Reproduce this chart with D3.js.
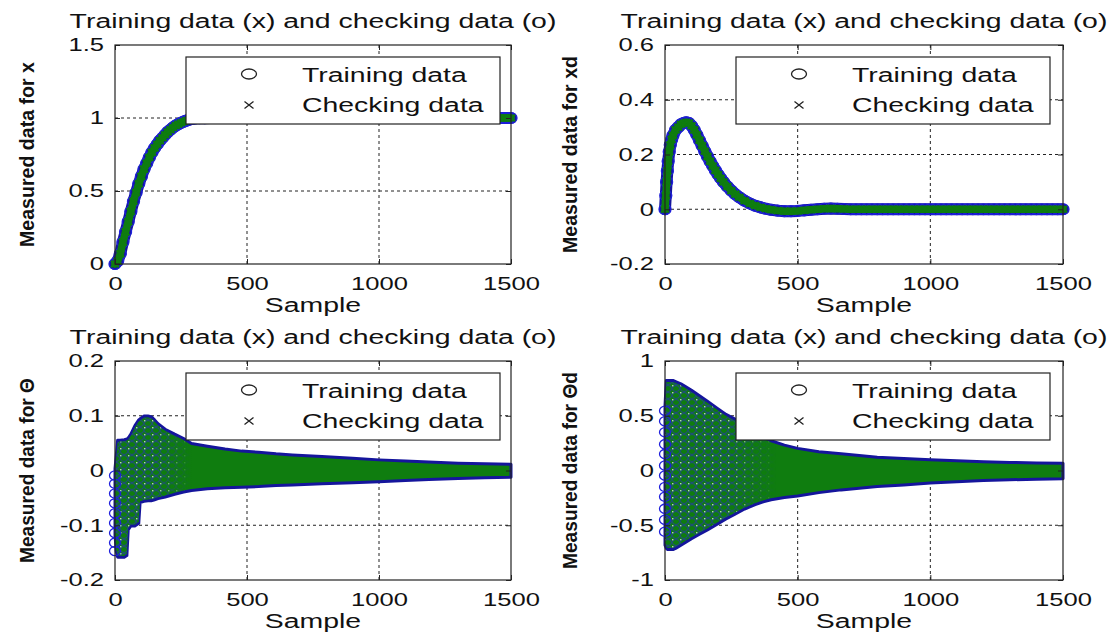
<!DOCTYPE html>
<html>
<head>
<meta charset="utf-8">
<script src="https://cdn.jsdelivr.net/npm/d3@7"></script>
<style>
body { margin: 0; background: #fff; }
svg { display: block; }
text { font-family: "Liberation Sans", Arial, sans-serif; fill: #111; }
</style>
</head>
<body>
<svg id="fig" width="1115" height="634"></svg>
<script>
// ---- data ----
var xTicks = [0, 500, 1000, 1500];

// x (position): rises to 1, then flat
var xSamples = [0,10,20,30,40,50,60,70,80,90,100,110,120,130,140,150,160,170,180,190,200,210,220,230,240,250,260,270,280,290,300,
  320,340,360,380,400,430,460,490,520,550,580,610,640,680,720,760,800,840,880,920,960,1000,1040,1080,1120,1160,1200,1240,1280,1320,1360,1400,1430,1450,1460,1470,1480,1490,1500];
var xValues = [0,0.02,0.07,0.15,0.22,0.29,0.36,0.43,0.49,0.55,0.60,0.65,0.69,0.73,0.765,0.795,0.82,0.845,0.865,0.885,0.905,0.92,0.935,0.948,0.958,0.967,0.975,0.982,0.988,0.993,0.996,
  0.998,0.999,1,1,1,1,1,1,1,1,1,1,1,1,1,1,1,1,1,1,1,1,1,1,1,1,1,1,1,1,1,1,1,1,1,1,1,1,1];
var xTickY = [0, 0.5, 1, 1.5];

// xd (velocity): peak near sample 80, settles at 0
var xdSamples = [0,3,6,9,12,16,20,25,30,40,50,60,70,80,90,100,110,120,130,140,150,160,170,180,190,200,210,220,235,250,265,280,
  300,320,340,360,380,400,425,450,475,500,525,550,575,600,625,650,675,700,
  720,740,760,780,800,820,840,860,880,900,920,940,960,980,1000,1020,1040,1060,1080,1100,1120,1140,1160,1180,1200,1220,1240,1260,1280,1300,1320,1340,1360,1380,1400,1420,1440,1460,1480,1500];
var xdValues = [0,0.05,0.1,0.14,0.175,0.21,0.235,0.255,0.27,0.29,0.30,0.31,0.315,0.318,0.315,0.305,0.29,0.272,0.252,0.232,0.212,0.193,0.175,0.158,0.142,0.127,0.113,0.1,0.083,0.068,0.055,0.044,
  0.031,0.021,0.013,0.007,0.002,-0.002,-0.005,-0.007,-0.007,-0.006,-0.004,-0.002,0,0.002,0.003,0.002,0.001,0,
  0,0,0,0,0,0,0,0,0,0,0,0,0,0,0,0,0,0,0,0,0,0,0,0,0,0,0,0,0,0,0,0,0,0,0,0,0,0,0,0];
var xdTickY = [-0.2, 0, 0.2, 0.4, 0.6];

// theta: dense oscillation, upper / lower envelope of the markers
var thSamples = [0,5,10,20,35,45,50,60,75,90,95,110,125,137,150,163,190,226,260,290,350,417,480,544,610,672,784,900,1000,1100,1189,1300,1400,1500];
var thUpper = [-0.005,0.02,0.047,0.047,0.048,0.049,0.051,0.058,0.073,0.084,0.086,0.091,0.091,0.09,0.084,0.077,0.067,0.058,0.05,0.041,
  0.036,0.031,0.027,0.025,0.022,0.02,0.017,0.014,0.011,0.009,0.007,0.005,0.004,0.003];
var thLower = [-0.11,-0.14,-0.15,-0.15,-0.15,-0.147,-0.1,-0.093,-0.093,-0.088,-0.05,-0.048,-0.047,-0.047,-0.045,-0.043,-0.04,-0.035,-0.031,-0.028,
  -0.025,-0.023,-0.022,-0.021,-0.019,-0.018,-0.016,-0.014,-0.012,-0.01,-0.008,-0.006,-0.005,-0.004];
var thFirst = [-0.009,-0.024,-0.042,-0.06,-0.078,-0.096,-0.114,-0.132,-0.147];
var thTickY = [-0.2, -0.1, 0, 0.1, 0.2];

// theta dot
var thdSamples = [0,5,10,20,30,40,60,80,100,130,160,195,230,262,300,340,370,400,450,500,580,664,800,900,1000,1100,1200,1300,1400,1500];
var thdUpper = [0.55,0.78,0.78,0.78,0.78,0.77,0.75,0.72,0.69,0.64,0.59,0.53,0.47,0.43,0.37,0.30,0.26,0.23,0.19,0.16,
  0.13,0.11,0.08,0.068,0.056,0.046,0.038,0.032,0.027,0.024];
var thdLower = [-0.64,-0.67,-0.68,-0.68,-0.68,-0.67,-0.64,-0.61,-0.58,-0.54,-0.50,-0.45,-0.40,-0.36,-0.31,-0.27,-0.245,-0.225,-0.205,-0.19,
  -0.16,-0.135,-0.105,-0.09,-0.072,-0.06,-0.05,-0.043,-0.037,-0.033];
var thdFirst = [0.545,0.45,0.35,0.24,0.15,0.045,-0.045,-0.15,-0.24,-0.35,-0.45,-0.56];
var thdTickY = [-1, -0.5, 0, 0.5, 1];

var titleText = "Training data (x) and checking data (o)";
var legendText = ["Training data", "Checking data"];

// ---- styles ----
var BLUE = "#1f1fdc", EDGE = "#15159c", GREEN = "#0f7d0f";
var K = 1.42;   // the figure is stretched sideways

var svg = d3.select("#fig");
var defs = svg.append("defs");

// texture of overlapping circles where the oscillation is still large
var pat = defs.append("pattern").attr("id", "rings").attr("patternUnits", "userSpaceOnUse")
  .attr("width", 8).attr("height", 7);
pat.append("rect").attr("width", 8).attr("height", 7).attr("fill", GREEN);
pat.append("ellipse").attr("cx", 4).attr("cy", 3.5).attr("rx", 3.6).attr("ry", 3)
  .attr("fill", "none").attr("stroke", "#2a2ac8").attr("stroke-width", 0.9).attr("opacity", 0.75);
pat.append("circle").attr("cx", 0.8).attr("cy", 0.8).attr("r", 0.7).attr("fill", "#e8f0e8");

function stretch(sel, k) {
  sel.each(function() {
    var w = this.getComputedTextLength();
    d3.select(this).attr("textLength", w * k).attr("lengthAdjust", "spacingAndGlyphs");
  });
}

function crossPath(cx, cy, a, b) {
  return "M" + (cx - a) + "," + (cy - b) + "L" + (cx + a) + "," + (cy + b) +
         "M" + (cx - a) + "," + (cy + b) + "L" + (cx + a) + "," + (cy - b);
}

var panels = [
  {left: 115, right: 511, top: 45, bottom: 264, domain: [0, 1.5], ticks: xTickY,
   label: "Measured data for x", labelX: 34, labelLen: 185, kind: "line", s: xSamples, v: xValues},
  {left: 665, right: 1063, top: 45, bottom: 264, domain: [-0.2, 0.6], ticks: xdTickY,
   label: "Measured data for xd", labelX: 577, labelLen: 197, kind: "line", s: xdSamples, v: xdValues},
  {left: 115, right: 511, top: 361, bottom: 580, domain: [-0.2, 0.2], ticks: thTickY,
   label: "Measured data for \u0398", labelX: 34, labelLen: 185, kind: "band", texEnd: 290,
   s: thSamples, hi: thUpper, lo: thLower, first: thFirst},
  {left: 665, right: 1063, top: 361, bottom: 580, domain: [-1, 1], ticks: thdTickY,
   label: "Measured data for \u0398d", labelX: 577, labelLen: 197, kind: "band", texEnd: 420,
   s: thdSamples, hi: thdUpper, lo: thdLower, first: thdFirst}
];

panels.forEach(function(p, pi) {
  var x = d3.scaleLinear().domain([0, 1500]).range([p.left, p.right]);
  var y = d3.scaleLinear().domain(p.domain).range([p.bottom, p.top]);
  var g = svg.append("g");

  // dotted grid
  g.selectAll(".gx").data(xTicks.slice(1, -1)).join("line")
    .attr("x1", function(d) { return x(d); }).attr("x2", function(d) { return x(d); })
    .attr("y1", p.top).attr("y2", p.bottom)
    .attr("stroke", "#222").attr("stroke-width", 1).attr("stroke-dasharray", "3,3");
  g.selectAll(".gy").data(p.ticks.slice(1, -1)).join("line")
    .attr("y1", function(d) { return y(d); }).attr("y2", function(d) { return y(d); })
    .attr("x1", p.left).attr("x2", p.right)
    .attr("stroke", "#222").attr("stroke-width", 1).attr("stroke-dasharray", "3,3");

  // data
  if (p.kind == "line") {
    var pts = p.s.map(function(s, i) { return [s, p.v[i]]; });
    var line = d3.line().x(function(d) { return x(d[0]); }).y(function(d) { return y(d[1]); });
    // markers overlap so densely that they merge into a band
    g.append("path").datum(pts).attr("d", line).attr("fill", "none")
      .attr("stroke", EDGE).attr("stroke-width", 12).attr("stroke-linecap", "round").attr("stroke-linejoin", "round");
    g.append("g").selectAll("ellipse").data(pts).join("ellipse")
      .attr("cx", function(d) { return x(d[0]); })
      .attr("cy", function(d) { return y(d[1]); })
      .attr("rx", 6).attr("ry", 5.4)
      .attr("fill", "none").attr("stroke", BLUE).attr("stroke-width", 1.3);
    g.append("path").datum(pts).attr("d", line).attr("fill", "none")
      .attr("stroke", GREEN).attr("stroke-width", 7.5).attr("stroke-linecap", "round").attr("stroke-linejoin", "round");
    g.append("g").selectAll("path").data(pts).join("path")
      .attr("d", function(d) { return crossPath(x(d[0]), y(d[1]), 4, 3.3); })
      .attr("stroke", GREEN).attr("stroke-width", 2);
  } else {
    var rows = p.s.map(function(s, i) { return [s, p.hi[i], p.lo[i]]; });
    var area = d3.area()
      .x(function(d) { return x(d[0]); })
      .y0(function(d) { return y(d[2]) + 4.6; })
      .y1(function(d) { return y(d[1]) - 4.6; });
    g.append("path").datum(rows).attr("d", area)
      .attr("fill", GREEN).attr("stroke", EDGE).attr("stroke-width", 3).attr("stroke-linejoin", "round");

    // fade the ring texture out along the sample axis
    var gid = "fade" + pi, mid = "mask" + pi;
    var grad = defs.append("linearGradient").attr("id", gid).attr("gradientUnits", "userSpaceOnUse")
      .attr("x1", x(0)).attr("x2", x(p.texEnd)).attr("y1", 0).attr("y2", 0);
    grad.append("stop").attr("offset", 0).attr("stop-color", "#fff");
    grad.append("stop").attr("offset", 0.55).attr("stop-color", "#fff");
    grad.append("stop").attr("offset", 1).attr("stop-color", "#000");
    defs.append("mask").attr("id", mid).attr("maskUnits", "userSpaceOnUse")
      .attr("x", 0).attr("y", 0).attr("width", 1115).attr("height", 634)
      .append("rect").attr("width", 1115).attr("height", 634).attr("fill", "url(#" + gid + ")");
    var inner = d3.area()
      .x(function(d) { return x(d[0]); })
      .y0(function(d) { return y(d[2]) + 3; })
      .y1(function(d) { return y(d[1]) - 3; });
    g.append("path").datum(rows).attr("d", inner)
      .attr("fill", "url(#rings)").attr("mask", "url(#" + mid + ")");

    g.append("g").selectAll("ellipse").data(p.first).join("ellipse")
      .attr("cx", x(0))
      .attr("cy", function(d) { return y(d); })
      .attr("rx", 5.5).attr("ry", 4.6)
      .attr("fill", "none").attr("stroke", BLUE).attr("stroke-width", 1.3);
  }

  // box
  g.append("rect").attr("x", p.left).attr("y", p.top)
    .attr("width", p.right - p.left).attr("height", p.bottom - p.top)
    .attr("fill", "none").attr("stroke", "#222").attr("stroke-width", 1.2);

  // axes, ticks pointing inwards
  var fmt = function(d) { return String(d); };
  var axB = g.append("g").attr("transform", "translate(0," + p.bottom + ")")
    .call(d3.axisBottom(x).tickValues(xTicks).tickFormat(fmt).tickSize(-5).tickPadding(13));
  var axL = g.append("g").attr("transform", "translate(" + p.left + ",0)")
    .call(d3.axisLeft(y).tickValues(p.ticks).tickFormat(fmt).tickSize(-5).tickPadding(11));
  g.append("g").attr("transform", "translate(0," + p.top + ")")
    .call(d3.axisTop(x).tickValues(xTicks).tickFormat("").tickSize(-5));
  g.append("g").attr("transform", "translate(" + p.right + ",0)")
    .call(d3.axisRight(y).tickValues(p.ticks).tickFormat("").tickSize(-5));
  g.selectAll(".domain").remove();
  g.selectAll(".tick line").attr("stroke", "#222");
  [axB, axL].forEach(function(a) {
    a.selectAll("text").attr("font-size", 18).attr("fill", "#111")
      .attr("font-family", "'Liberation Sans', Arial, sans-serif");
    stretch(a.selectAll("text"), K);
  });

  // title and axis labels
  var cx = (p.left + p.right) / 2;
  var t = g.append("text").attr("x", cx).attr("y", p.top - 17)
    .attr("text-anchor", "middle").attr("font-size", 20).text(titleText);
  stretch(t, K);
  var sx = g.append("text").attr("x", cx).attr("y", p.bottom + 48)
    .attr("text-anchor", "middle").attr("font-size", 20).text("Sample");
  stretch(sx, K);
  var cy = (p.top + p.bottom) / 2;
  g.append("text").attr("transform", "translate(" + p.labelX + "," + cy + ") rotate(-90)")
    .attr("text-anchor", "middle").attr("font-size", 20).attr("font-weight", "bold")
    .attr("textLength", p.labelLen).attr("lengthAdjust", "spacingAndGlyphs")
    .text(p.label);

  // legend
  var lg = g.append("g").attr("transform", "translate(" + (p.left + 71) + "," + (p.top + 12) + ")");
  lg.append("rect").attr("width", 314).attr("height", 67)
    .attr("fill", "#fff").attr("stroke", "#222").attr("stroke-width", 1.2);
  lg.append("ellipse").attr("cx", 63).attr("cy", 17).attr("rx", 7.5).attr("ry", 5)
    .attr("fill", "none").attr("stroke", "#222").attr("stroke-width", 1.3);
  lg.append("path").attr("d", crossPath(63, 48, 4.5, 3.5))
    .attr("stroke", "#222").attr("stroke-width", 1.3);
  lg.selectAll(".lt").data(legendText).join("text")
    .attr("x", 116).attr("y", function(d, i) { return 25 + i * 30; })
    .attr("font-size", 20).text(function(d) { return d; })
    .call(stretch, K);
});
</script>
</body>
</html>
